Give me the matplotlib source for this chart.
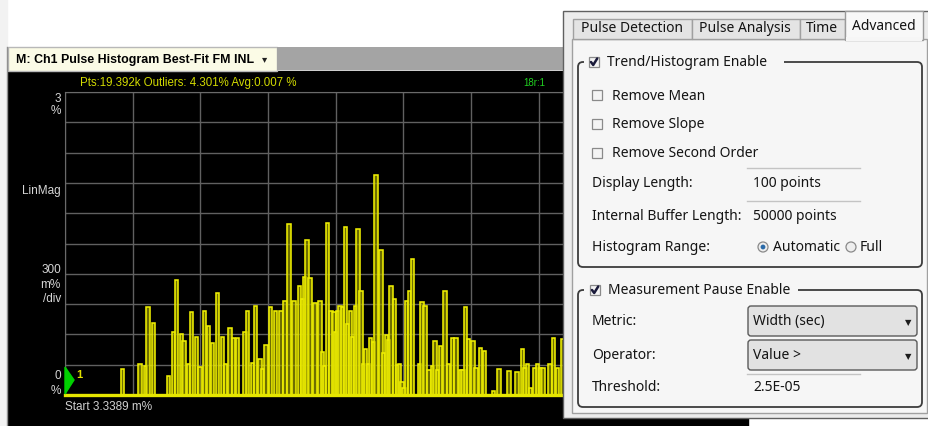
import matplotlib
matplotlib.use("Agg")
import matplotlib.pyplot as plt
from matplotlib.patches import Rectangle, Polygon, FancyBboxPatch, Circle
import numpy as np

# ---------------- data ----------------
# bin centres (in horizontal divisions of the display) and histogram heights (%)
bin_pos = [0.852, 1.108, 1.186, 1.226, 1.304, 1.532, 1.600, 1.644, 1.718, 1.758,
           1.827, 1.871, 1.945, 1.994, 2.058, 2.123, 2.176, 2.250, 2.323, 2.374,
           2.437, 2.486, 2.545, 2.659, 2.699, 2.767, 2.817, 2.880, 2.920, 2.969,
           3.038, 3.112, 3.191, 3.250, 3.309, 3.383, 3.461, 3.505, 3.535, 3.575,
           3.619, 3.693, 3.767, 3.806, 3.836, 3.874, 3.929, 3.973, 3.993, 4.032,
           4.062, 4.102, 4.140, 4.176, 4.214, 4.250, 4.288, 4.328, 4.372, 4.406,
           4.442, 4.480, 4.516, 4.554, 4.594, 4.668, 4.702, 4.752, 4.781, 4.815,
           4.870, 4.908, 4.938, 4.978, 5.007, 5.047, 5.086, 5.130, 5.233, 5.273,
           5.318, 5.377, 5.425, 5.465, 5.505, 5.544, 5.613, 5.662, 5.721, 5.776,
           5.839, 5.879, 5.913, 5.963, 6.027, 6.071, 6.140, 6.194, 6.332, 6.411,
           6.558, 6.677, 6.755, 6.795, 6.835, 6.873, 6.942, 6.982, 7.021, 7.061,
           7.164, 7.213, 7.278, 7.346]
counts_pct = [0.26, 0.31, 0.29, 0.87, 0.71, 0.19, 0.62, 1.14, 0.60, 0.53,
              0.31, 0.82, 0.57, 0.28, 0.83, 0.68, 0.51, 1.01, 0.57, 0.31,
              0.66, 0.56, 0.56, 0.62, 0.83, 0.32, 0.88, 0.36, 0.26, 0.50,
              0.87, 0.83, 0.83, 0.93, 1.69, 0.93, 1.08, 0.95, 1.17, 1.53,
              1.16, 0.91, 0.93, 0.43, 0.29, 1.70, 0.83, 0.82, 0.62, 0.83,
              0.88, 0.87, 1.66, 0.70, 0.83, 0.57, 0.88, 1.64, 1.03, 0.31,
              0.46, 0.31, 0.56, 0.52, 2.18, 1.44, 0.42, 0.59, 0.54, 1.08,
              0.95, 0.30, 0.31, 0.13, 0.07, 0.93, 1.03, 1.35, 0.31, 0.92,
              0.88, 0.25, 0.29, 0.53, 0.25, 0.49, 1.03, 0.31, 0.56, 0.56,
              0.25, 0.25, 0.87, 0.55, 0.53, 0.27, 0.47, 0.44, 0.04, 0.26,
              0.24, 0.23, 0.46, 0.27, 0.31, 0.07, 0.27, 0.31, 0.27, 0.27,
              0.31, 0.56, 0.27, 0.55]

title = "M: Ch1 Pulse Histogram Best-Fit FM INL"
stats = "Pts:19.392k Outliers: 4.301% Avg:0.007 %"
start_label = "Start 3.3389 m%"
tabs = ["Pulse Detection", "Pulse Analysis", "Time", "Advanced"]

W, H = 929, 427
fig = plt.figure(figsize=(W / 100, H / 100), dpi=100, facecolor="white")

# ---------------- background / window chrome ----------------
bg = fig.add_axes([0, 0, 1, 1], zorder=0)
bg.set_xlim(0, W); bg.set_ylim(H, 0); bg.axis("off")
bg.add_patch(Rectangle((0, 0), 7, H, color="#f2f2f2"))
bg.add_patch(Rectangle((8, 72), 740, H - 72, color="black"))
bg.plot([7.5, 7.5], [48, H], color="#909090", lw=1)
bg.add_patch(Rectangle((8, 48), 269, 24, facecolor="#fbfbe6", edgecolor="#b8b8b8", lw=1))
bg.add_patch(Rectangle((277, 48), 286, 23, facecolor="#a4a4a4", edgecolor="none"))
bg.text(16, 60, title, fontsize=8.9, fontweight="bold", family="Liberation Sans",
        va="center", ha="left", color="black")
bg.text(265, 59, "▾", fontsize=7.5, va="center", ha="center", color="#222222",
        family="DejaVu Sans")
bg.text(80, 83, stats, fontsize=8.3, family="Liberation Sans", color="#d2da00",
        va="center", ha="left")
bg.text(523, 83, "18r:1", fontsize=7, family="Liberation Sans", color="#20d020",
        va="center", ha="left")

lab_kw = dict(fontsize=8.5, family="Liberation Sans", color="#d6d6d6", ha="right", va="center")
bg.text(61, 99, "3", **lab_kw)
bg.text(61, 111, "%", **lab_kw)
bg.text(61, 191, "LinMag", **lab_kw)
bg.text(61, 270, "300", **lab_kw)
bg.text(60, 285, "m%", **lab_kw)
bg.text(61, 299, "/div", **lab_kw)
bg.text(61, 376, "0", **lab_kw)
bg.text(61, 391, "%", **lab_kw)
bg.text(65, 407, start_label, fontsize=8.5, family="Liberation Sans", color="#d0d0d0",
        ha="left", va="center")

# ---------------- the histogram ----------------
ax = fig.add_axes([65 / W, (H - 396) / H, 677 / W, 303 / H], zorder=1)
ax.set_facecolor("none")
ax.set_xlim(0, 10)
ax.set_ylim(0, 3)
ax.set_xticks(np.arange(0, 11, 1))
ax.set_yticks(np.arange(0, 3.01, 0.3))
ax.tick_params(length=0, labelbottom=False, labelleft=False)
ax.grid(True, color="#606060", lw=1)
for s in ["right", "bottom"]:
    ax.spines[s].set_visible(False)
for s in ["left", "top"]:
    ax.spines[s].set_color("#6a6a6a")
ax.set_axisbelow(True)
ax.bar(bin_pos, counts_pct, width=0.05, align="center",
       facecolor=(0.62, 0.62, 0.0, 0.7), edgecolor="#eeee00", lw=1.15, zorder=2)
ax.axhline(0, color="#e6e600", lw=2.4, zorder=3, clip_on=False)

# marker
bg2 = fig.add_axes([0, 0, 1, 1], zorder=1.5)
bg2.set_xlim(0, W); bg2.set_ylim(H, 0); bg2.axis("off"); bg2.set_facecolor("none")
bg2.add_patch(Polygon([(65, 368), (74, 381), (65, 395)], closed=True, color="#00d000"))
bg2.text(76, 375, "1", fontsize=8, fontweight="bold", family="Liberation Sans",
         color="#e0e000", va="center", ha="left")

# ---------------- settings panel ----------------
ov = fig.add_axes([0, 0, 1, 1], zorder=2)
ov.set_xlim(0, W); ov.set_ylim(H, 0); ov.axis("off"); ov.set_facecolor("none")

ov.add_patch(Rectangle((563, 12), W - 563, 407, facecolor="#ececec", edgecolor="#606060", lw=1))
ov.add_patch(Rectangle((572, 40), 355, 374, facecolor="#f6f6f6", edgecolor="#a0a0a0", lw=1))

txt_kw = dict(fontsize=10, family="Noto Sans", color="#141414", va="center", ha="left")

tab_edges = [573, 692, 800, 845, 923]
tab_txt_x = [632, 745, 822, 884]
for i, name in enumerate(tabs):
    x0, x1 = tab_edges[i], tab_edges[i + 1]
    if name == "Advanced":
        ov.add_patch(Rectangle((x0, 12), x1 - x0, 29, facecolor="#f8f8f8", edgecolor="#9a9a9a", lw=1))
        ov.add_patch(Rectangle((x0 + 0.8, 38), x1 - x0 - 1.6, 4, facecolor="#f6f6f6", edgecolor="none"))
        ty = 27
    else:
        ov.add_patch(Rectangle((x0, 20), x1 - x0, 20, facecolor="#e4e4e4", edgecolor="#a0a0a0", lw=1))
        ty = 29
    ov.text(tab_txt_x[i], ty, name, fontsize=10, family="Noto Sans",
            color="#141414", ha="center", va="center")


def group(x0, y0, x1, y1, hdr_end):
    ov.add_patch(FancyBboxPatch((x0, y0), x1 - x0, y1 - y0,
                                boxstyle="round,pad=0,rounding_size=5",
                                facecolor="none", edgecolor="#3c3c3c", lw=1.3))
    ov.add_patch(Rectangle((x0 + 6, y0 - 6), hdr_end - x0 - 6, 12,
                           facecolor="#f6f6f6", edgecolor="none"))


def checkbox(x, y, checked):
    ov.add_patch(Rectangle((x, y - 5), 10, 10, facecolor="#f4f4f4", edgecolor="#8a8a8a", lw=0.9))
    if checked:
        ov.plot([x + 2, x + 4.2, x + 8.2], [y, y + 3, y - 3.5], color="#1a1a3a", lw=1.8,
                solid_capstyle="round")


def radio(x, y, on):
    ov.add_patch(Circle((x, y), 5, facecolor="#eeeeee", edgecolor="#8a8a8a", lw=0.9))
    if on:
        ov.add_patch(Circle((x, y), 2.4, facecolor="#2a6aa8", edgecolor="none"))


def combo(x0, y0, x1, y1, text):
    ov.add_patch(FancyBboxPatch((x0, y0), x1 - x0, y1 - y0,
                                boxstyle="round,pad=0,rounding_size=3",
                                facecolor="#e2e2e2", edgecolor="#5a5a5a", lw=1))
    ov.text(x0 + 5, (y0 + y1) / 2, text, **txt_kw)
    ov.text(x1 - 9, (y0 + y1) / 2 + 0.5, "▼", fontsize=6, family="DejaVu Sans",
            color="#1c1c1c", ha="center", va="center")


# group 1
group(578, 63, 922, 268, 784)
checkbox(589, 63, True)
ov.text(607, 63, "Trend/Histogram Enable", **txt_kw)
checkbox(592, 96, False)
ov.text(612, 96, "Remove Mean", **txt_kw)
checkbox(592, 125, False)
ov.text(612, 125, "Remove Slope", **txt_kw)
checkbox(592, 154, False)
ov.text(612, 154, "Remove Second Order", **txt_kw)
ov.plot([747, 860], [169, 169], color="#c4c4c4", lw=1)
ov.text(592, 184, "Display Length:", **txt_kw)
ov.text(753, 184, "100 points", **txt_kw)
ov.plot([747, 860], [202, 202], color="#c4c4c4", lw=1)
ov.text(592, 217, "Internal Buffer Length:", **txt_kw)
ov.text(753, 217, "50000 points", **txt_kw)
ov.text(592, 248, "Histogram Range:", **txt_kw)
radio(763, 248, True)
ov.text(773, 248, "Automatic", **txt_kw)
radio(851, 248, False)
ov.text(860, 248, "Full", **txt_kw)

# group 2
group(578, 291, 922, 408, 798)
checkbox(590, 291, True)
ov.text(608, 291, "Measurement Pause Enable", **txt_kw)
ov.text(592, 322, "Metric:", **txt_kw)
combo(748, 307, 917, 337, "Width (sec)")
ov.text(592, 356, "Operator:", **txt_kw)
combo(748, 341, 917, 371, "Value >")
ov.plot([747, 860], [375, 375], color="#c4c4c4", lw=1)
ov.text(592, 388, "Threshold:", **txt_kw)
ov.text(753, 388, "2.5E-05", **txt_kw)

fig.savefig("out.png", dpi=100, facecolor="white")
